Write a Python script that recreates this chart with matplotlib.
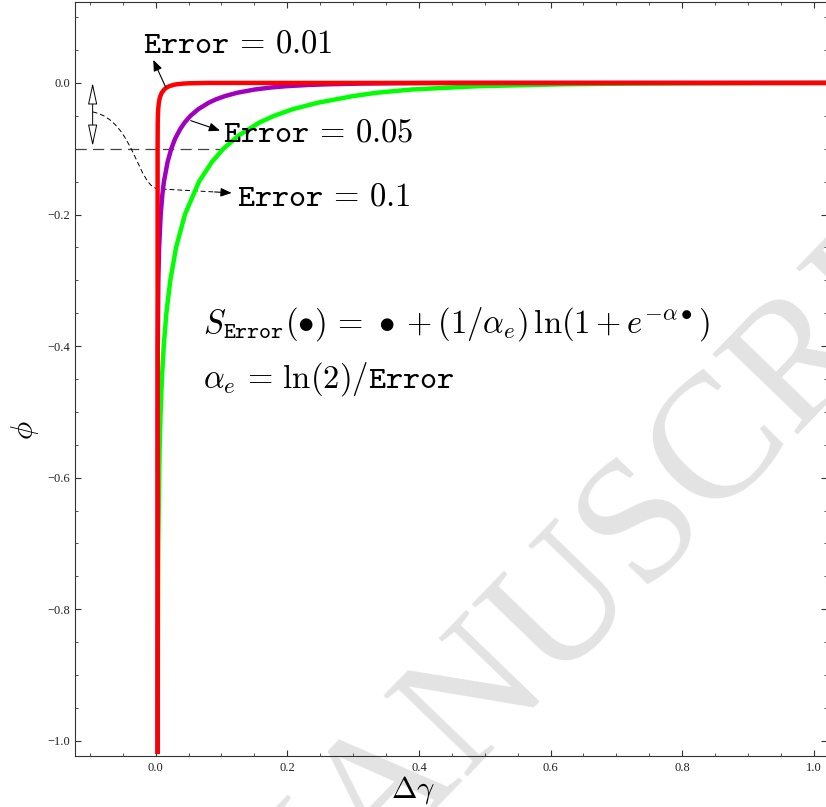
import matplotlib.pyplot as plt
from matplotlib.path import Path
from matplotlib.patches import PathPatch
from matplotlib.ticker import MultipleLocator

plt.rcParams["mathtext.fontset"] = "cm"
plt.rcParams["font.family"] = ["Liberation Serif", "DejaVu Serif"]

#%% data: phi vs delta gamma for three smoothing errors
err_labels = ["0.1", "0.05", "0.01"]
colors = ["#00ff00", "#a000c0", "#ff0000"]

# Error = 0.1
g_x = [0.003, 0.0036, 0.0041, 0.0053, 0.0062, 0.0076, 0.0095, 0.0123, 0.0163, 0.0223, 0.0311,
       0.0445, 0.0659, 0.0856, 0.103, 0.126, 0.158, 0.180, 0.208, 0.247, 0.300, 0.335,
       0.389, 0.489, 0.620, 0.719, 0.821, 1.02]
g_y = [-1.02, -0.8, -0.7, -0.6, -0.55, -0.5, -0.45, -0.4, -0.35, -0.3, -0.25,
       -0.2, -0.15, -0.12, -0.1, -0.08, -0.06, -0.05, -0.04, -0.03, -0.02, -0.015,
       -0.01, -0.005, -0.002, -0.001, -0.0005, 0.0]

# Error = 0.05
p_x = [0.003, 0.0033, 0.0041, 0.0053, 0.0077, 0.0102, 0.0126, 0.0182, 0.0238, 0.0295, 0.0374,
       0.0442, 0.053, 0.0646, 0.0808, 0.0916, 0.1053, 0.1237, 0.1505, 0.1748, 0.198,
       0.234, 0.263, 0.312, 0.362, 0.45, 1.02]
p_y = [-1.02, -0.4, -0.3, -0.25, -0.2, -0.17, -0.15, -0.12, -0.1, -0.085, -0.07,
       -0.06, -0.05, -0.04, -0.03, -0.025, -0.02, -0.015, -0.01, -0.007, -0.005,
       -0.003, -0.002, -0.001, -0.0005, 0.0, 0.0]

# Error = 0.01
r_x = [0.003, 0.003, 0.0032, 0.0035, 0.0039, 0.0049, 0.0058, 0.0072, 0.0093, 0.013, 0.0168,
       0.0207, 0.0271, 0.0325, 0.042, 0.052, 0.08, 1.02]
r_y = [-1.02, -0.1, -0.06, -0.05, -0.04, -0.03, -0.025, -0.02, -0.015, -0.01, -0.007,
       -0.005, -0.003, -0.002, -0.001, -0.0005, 0.0, 0.0]

series_x = [g_x, p_x, r_x]
series_y = [g_y, p_y, r_y]
phi_ref = -0.1

#%% figure
fig = plt.figure(figsize=(8.26, 8.07), dpi=100)
ax = fig.add_axes([75 / 826, 51 / 807, 752 / 826, 754 / 807])
ax.set_facecolor("none")

for xs, ys, c in zip(series_x, series_y, colors):
    ax.plot(xs, ys, color=c, lw=3.2, solid_joinstyle="round", solid_capstyle="butt", zorder=3)

ax.set_xlim(-0.1225, 1.02)
ax.set_ylim(-1.023, 0.123)
ax.xaxis.set_major_locator(MultipleLocator(0.2))
ax.xaxis.set_minor_locator(MultipleLocator(0.05))
ax.yaxis.set_major_locator(MultipleLocator(0.2))
ax.yaxis.set_minor_locator(MultipleLocator(0.05))
ax.tick_params(which="both", direction="in", top=True, right=True, colors="#333333",
               labelcolor="#222222", labelsize=9)
ax.tick_params(which="major", length=4, width=0.8)
ax.tick_params(which="minor", length=2.5, width=0.6)
ax.tick_params(axis="x", pad=4.5)
ax.tick_params(axis="y", pad=3.5)
for s in ax.spines.values():
    s.set_linewidth(0.8)
    s.set_color("#333333")

# dashed reference level and the double arrow
ax.hlines(phi_ref, -0.1225, 0.098, colors="#444444", lw=0.9, linestyles=(0, (9, 5)), zorder=2)
ax.annotate("", xy=(-0.0957, phi_ref + 0.004), xytext=(-0.0957, 0.0),
            arrowprops=dict(arrowstyle="<|-|>,head_length=1.35,head_width=0.29", mutation_scale=10,
                            fc="white", ec="black", lw=0.7, shrinkA=0, shrinkB=0))

# curve labels
fs = 23.5
ax.text(-0.0198, 0.0456, r"$\mathtt{Error}\,=\,0.01$", fontsize=fs)
ax.text(0.1018, -0.0897, r"$\mathtt{Error}\,=\,0.05$", fontsize=fs)
ax.text(0.123, -0.187, r"$\mathtt{Error}\,=\,0.1$", fontsize=fs)

arw = dict(arrowstyle="-|>,head_length=0.55,head_width=0.22", mutation_scale=12,
           color="black", lw=0.8, shrinkA=0, shrinkB=0)
ax.annotate("", xy=(-0.0036, 0.035), xytext=(0.0153, -0.0065), arrowprops=arw)
ax.annotate("", xy=(0.0979, -0.0725), xytext=(0.0533, -0.0573), arrowprops=arw)

# S-shaped dashed leader for Error = 0.1
verts = [(-0.0957, -0.0441), (-0.0319, -0.0562), (-0.0274, -0.1626), (0.0061, -0.1611),
         (0.0897, -0.1657)]
codes = [Path.MOVETO, Path.CURVE4, Path.CURVE4, Path.CURVE4, Path.LINETO]
ax.add_patch(PathPatch(Path(verts, codes), fill=False, ec="black", lw=0.7,
                       ls=(0, (5, 3)), zorder=2))
ax.annotate("", xy=(0.1155, -0.1672), xytext=(0.0897, -0.1657), arrowprops=arw)

# smoothing function
ax.text(0.0714, -0.380,
        r"$S_{\mathtt{Error}}(\bullet)\,=\,\bullet + (1/\alpha_e)\,\ln(1 + e^{-\alpha\bullet})$",
        fontsize=fs)
ax.text(0.0714, -0.4635, r"$\alpha_e\,=\,\ln(2)/\mathtt{Error}$", fontsize=fs)

# axis labels
fig.text(413 / 826, 9 / 807, r"$\Delta\gamma$", fontsize=22, ha="center", va="baseline")
fig.text(25 / 826, 1 - 430 / 807, r"$\phi$", fontsize=22, rotation=90, ha="center", va="center")

# watermark
fig.text(632 / 826, 1 - 540 / 807, "MANUSCRIPT", fontsize=128, color="#e3e3e3",
         family="Liberation Serif", rotation=46, ha="center", va="center",
         rotation_mode="anchor", zorder=-1)

fig.savefig("out.png", dpi=100)
